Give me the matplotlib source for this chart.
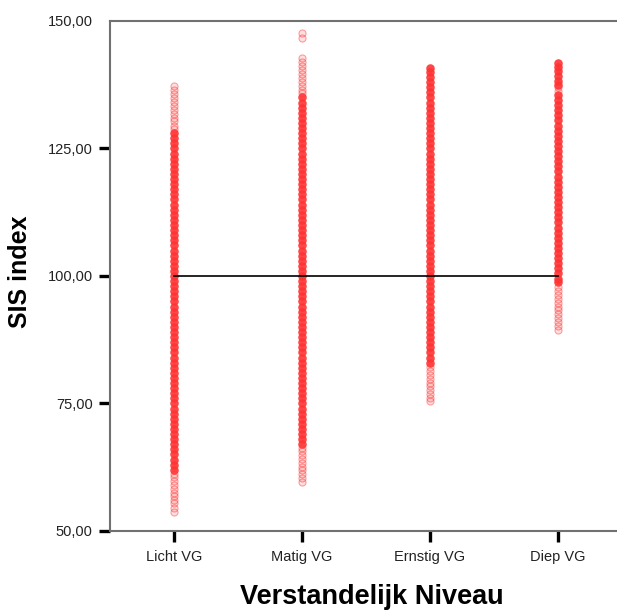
import matplotlib
matplotlib.use("Agg")
import matplotlib.pyplot as plt
from matplotlib.ticker import FuncFormatter

plt.rcParams['font.family'] = ['Liberation Sans', 'DejaVu Sans']

categories = ["Licht VG", "Matig VG", "Ernstig VG", "Diep VG"]
reference_value = 100

# dense part of each column (~1 unit apart)
licht_core = [62, 63, 64, 65, 66, 67, 68, 69, 70, 71, 72, 73, 74, 75, 76, 77, 78, 79, 80,
              81, 82, 83, 84, 85, 86, 87, 88, 89, 90, 91, 92, 93, 94, 95, 96, 97, 98, 99,
              100, 101, 102, 103, 104, 105, 106, 107, 108, 109, 110, 111, 112, 113, 114,
              115, 116, 117, 118, 119, 120, 121, 122, 123, 124, 125, 126, 127, 128]
matig_core = [67, 68, 69, 70, 71, 72, 73, 74, 75, 76, 77, 78, 79, 80, 81, 82, 83, 84, 85,
              86, 87, 88, 89, 90, 91, 92, 93, 94, 95, 96, 97, 98, 99, 100, 101, 102, 103,
              104, 105, 106, 107, 108, 109, 110, 111, 112, 113, 114, 115, 116, 117, 118,
              119, 120, 121, 122, 123, 124, 125, 126, 127, 128, 129, 130, 131, 132, 133,
              134, 135]
ernstig_core = [83, 84, 85, 86, 87, 88, 89, 90, 91, 92, 93, 94, 95, 96, 97, 98, 99, 100,
                101, 102, 103, 104, 105, 106, 107, 108, 109, 110, 111, 112, 113, 114, 115,
                116, 117, 118, 119, 120, 121, 122, 123, 124, 125, 126, 127, 128, 129, 130,
                131, 132, 133, 134, 135, 136, 137, 138, 139, 140, 140.7]
diep_core = [98.8, 99.5, 100.5, 101.5, 102.5, 103.5, 104.5, 105.5, 106.5, 107.5, 108.5,
             109.5, 110.5, 111.5, 112.5, 113.5, 114.5, 115.5, 116.5, 117.5, 118.5, 119.5,
             120.5, 121.5, 122.5, 123.5, 124.5, 125.5, 126.5, 127.5, 128.5, 129.5, 130.5,
             131.5, 132.5, 133.5, 134.5, 135.5, 137.5, 138.3, 139.2, 140.1, 141.0, 141.8]

# sparse tails of each column
licht_tail = [53.8, 54.6, 55.4, 56.1, 56.9, 57.5, 58.3, 59.0, 59.8, 60.5, 61.2,
              128.8, 129.5, 130.3, 131.0, 131.8, 132.6, 133.3, 134.1, 134.9, 135.6,
              136.4, 137.2]
matig_tail = [59.7, 60.4, 61.2, 61.9, 62.6, 63.4, 64.1, 64.9, 65.6, 66.3,
              135.8, 136.5, 137.3, 138.1, 138.8, 139.6, 140.4, 141.1, 142.0, 142.7,
              146.7, 147.6]
ernstig_tail = [75.4, 76.1, 76.9, 77.6, 78.4, 79.1, 79.9, 80.6, 81.4, 82.1]
diep_tail = [89.5, 90.2, 91.0, 91.8, 92.5, 93.3, 94.0, 94.8, 95.5, 96.3, 97.0, 97.8,
             136.3, 137.0]

cores = [licht_core, matig_core, ernstig_core, diep_core]
tails = [licht_tail, matig_tail, ernstig_tail, diep_tail]

fig = plt.figure(figsize=(6.17, 6.13), dpi=100)
ax = fig.add_axes([110 / 617, 82 / 613, 512 / 617, 510 / 613])

red = '#ff3333'
for i in range(len(categories)):
    ax.scatter([i] * len(tails[i]), tails[i], s=26, facecolors=(1, 0.2, 0.2, 0.15),
               edgecolors=(1, 0.2, 0.2, 0.45), linewidths=0.8, zorder=2)
    ax.scatter([i] * len(cores[i]), cores[i], s=38, color=red, alpha=0.9,
               linewidths=0, zorder=3)

ax.plot([0, len(categories) - 1], [reference_value, reference_value],
        color='black', linewidth=1.2, zorder=4)

ax.set_xlim(-0.5, 3.5)
ax.set_ylim(50, 150)
ax.set_xticks(range(len(categories)))
ax.set_xticklabels(categories)
ax.set_yticks([50, 75, 100, 125, 150])
ax.yaxis.set_major_formatter(FuncFormatter(lambda v, p: f"{v:.2f}".replace('.', ',')))

ax.tick_params(axis='both', length=8, width=2.4, color='black', labelsize=10.5,
               labelcolor='#222222', direction='out')
ax.tick_params(axis='y', pad=4.5)
ax.tick_params(axis='x', pad=6)
ax.yaxis.get_major_ticks()[-1].tick1line.set_visible(False)

for side in ['left', 'top', 'bottom']:
    ax.spines[side].set_color('#707070')
    ax.spines[side].set_linewidth(1.5)
ax.spines['right'].set_visible(False)

fig.text(20 / 617, 1 - 272 / 613, "SIS index", rotation=90, ha='center', va='center',
         fontsize=18, fontweight='bold')
fig.text(372 / 617, 1 - 597 / 613, "Verstandelijk Niveau", ha='center', va='center',
         fontsize=19.5, fontweight='bold')

fig.savefig("out.png", dpi=100)
